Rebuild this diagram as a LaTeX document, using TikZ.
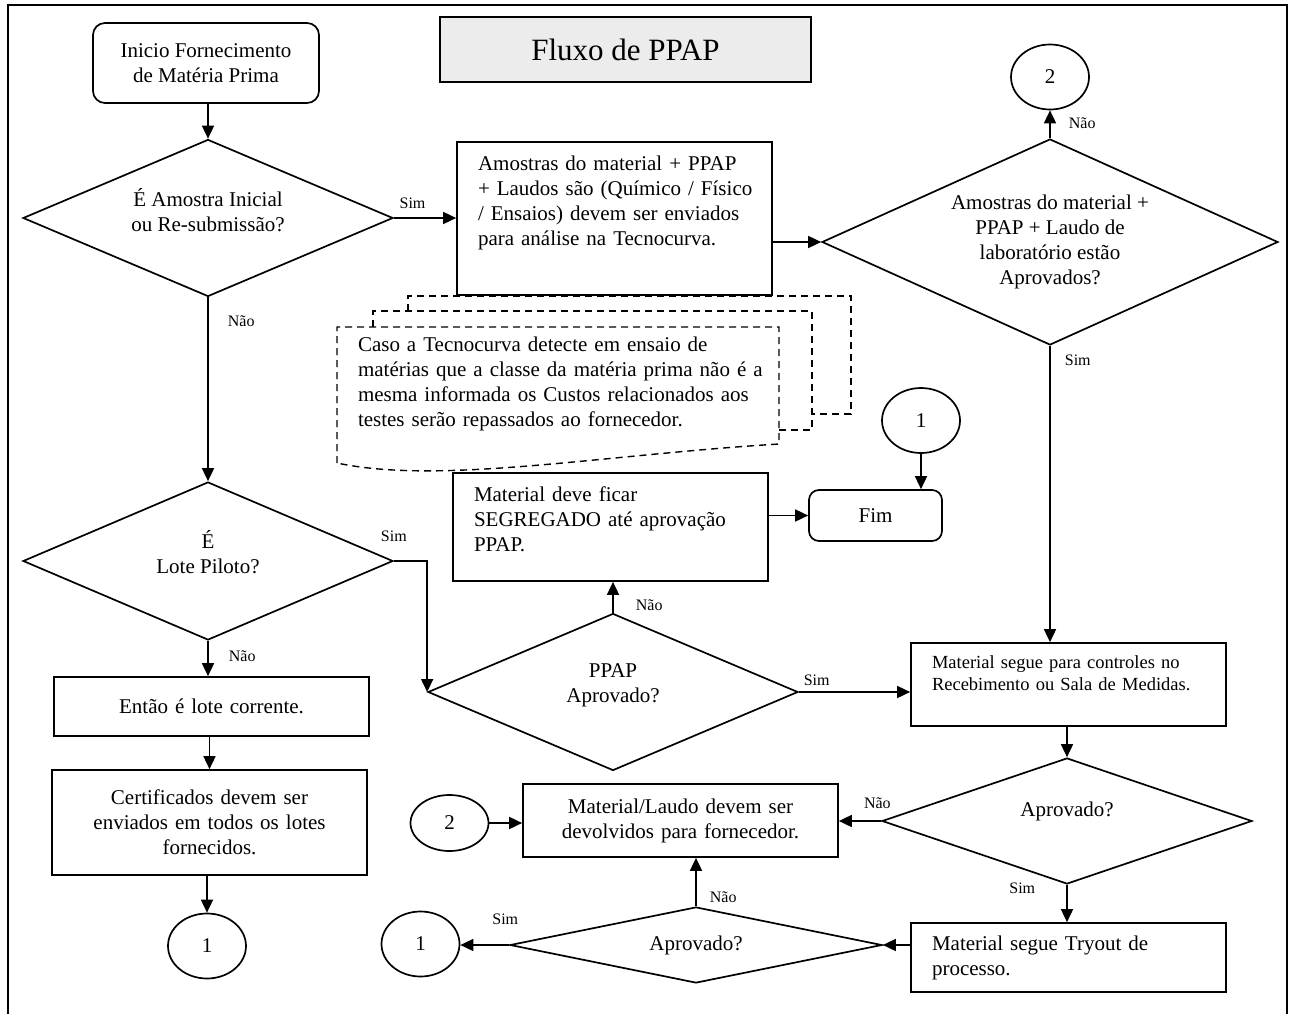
\documentclass[tikz,border=0pt]{standalone}
\usepackage{fontspec}
\setmainfont{Liberation Serif}
\usepackage{tikz}
\usetikzlibrary{shapes.geometric, arrows.meta}
\newcommand{\desce}[1]{\rule[-#1]{0pt}{#1}} % pushes the text up inside its box
\tikzset{
	->, % makes the connectors directed
	>={Triangle[length=13pt,width=12pt]}, % solid arrow heads
	texto/.style={font=\fontsize{21}{25}\selectfont},
	caixa/.style={draw, rectangle, texto, minimum width=315pt, minimum height=#1, text width=273pt, inner sep=0pt, align=center},
	inicio/.style={draw, rectangle, texto, rounded corners=12pt, align=center},
	decisao/.style n args={3}{draw, diamond, texto, inner sep=0pt, align=center, minimum width=#1pt, minimum height=#2pt, aspect=#3},
	conector/.style={draw, ellipse, texto, inner sep=0pt, minimum width=78pt, minimum height=65pt},
	rotulo/.style={font=\fontsize{16}{18}\selectfont, inner sep=2pt},
	tracejado/.style={-, dash pattern=on 7pt off 5pt, line width=1.4pt},
}

\begin{document}
\begin{tikzpicture}[x=1pt, y=-1pt, line width=1.7pt]
	\useasboundingbox (0,0) rectangle (1295,1014);
	\draw[-] (8,1014) -- (8,5) -- (1287,5) -- (1287,1014);

	\node[draw, fill=gray!15, minimum width=371pt, minimum height=65pt, font=\fontsize{31}{36}\selectfont] (titulo) at (625.5,49.5) {Fluxo de PPAP};
	\node[inicio, minimum width=226pt, minimum height=80pt] (inicio) at (206,63) {Inicio Fornecimento\\de Matéria Prima};
	\node[decisao={370}{157}{2.36}] (amostra) at (208,218) {É Amostra Inicial\\ou Re-submissão?\desce{17pt}};
	\node[caixa=153pt, align=left] (envio) at (614.5,218.5) {Amostras do material + PPAP\\\mbox{+ Laudos são (Químico / Físico}\\/ Ensaios) devem ser enviados\\para análise na Tecnocurva.\desce{36pt}};
	\node[decisao={456}{206}{2.21}] (aprovados) at (1050,242) {Amostras do material +\\PPAP + Laudo de\\laboratório estão\\Aprovados?};
	\node[conector] (c2a) at (1050,77) {2};

	% nota sobre os custos (multidocumento tracejado)
	\draw[tracejado] (408,311) -- (408,296) -- (851,296) -- (851,414) -- (812,414);
	\draw[tracejado] (373,327) -- (373,311) -- (812,311) -- (812,430) -- (779,430);
	\draw[tracejado] (337,463) -- (337,327) -- (779,327) -- (779,444) .. controls (600,455) and (440,485) .. (337,463);
	\node[texto, text width=430pt, align=left, inner sep=0pt] (nota) at (573,384) {Caso a Tecnocurva detecte em ensaio de\\matérias que a classe da matéria prima não é a\\mesma informada os Custos relacionados aos\\testes serão repassados ao fornecedor.};

	\node[decisao={370}{158}{2.34}] (piloto) at (208,561) {É\\Lote Piloto?\desce{19pt}};
	\node[caixa=59pt] (corrente) at (211.5,706.5) {Então é lote corrente.};
	\node[caixa=105pt] (certif) at (209.5,822.5) {Certificados devem ser\\enviados em todos os lotes\\fornecidos.};
	\node[conector] (c1a) at (207,946) {1};

	\node[decisao={370}{157}{2.36}] (ppap) at (613,692) {PPAP\\Aprovado?\desce{17pt}};
	\node[caixa=108pt, align=left] (segregado) at (610.5,527) {Material deve ficar\\SEGREGADO até aprovação\\PPAP.\desce{15pt}};
	\node[inicio, minimum width=133pt, minimum height=51pt, rounded corners=10pt] (fim) at (875.5,515.5) {Fim};
	\node[conector] (c1b) at (921,420.5) {1};

	\node[caixa=83pt, align=left, font=\fontsize{18.5}{22}\selectfont] (controles) at (1068.5,684.5) {Material segue para controles no\\Recebimento ou Sala de Medidas.\desce{22pt}};
	\node[decisao={370}{126}{2.94}] (aprov3) at (1067,821) {Aprovado?\desce{24pt}};
	\node[caixa=73pt] (devolver) at (680.5,820.5) {Material/Laudo devem ser\\devolvidos para fornecedor.};
	\node[conector, minimum height=56pt] (c2b) at (449.5,823) {2};
	\node[decisao={372}{76}{4.89}] (aprov4) at (696,945) {Aprovado?};
	\node[caixa=69pt, align=left] (tryout) at (1068.5,957.5) {Material segue Tryout de\\processo.};
	\node[conector] (c1c) at (420.5,944) {1};

	\draw (amostra.north |- inicio.south) -- (amostra.north);
	\draw (amostra.east) -- node[rotulo, above=6pt, pos=.3] {Sim} (amostra.east -| envio.west);
	\draw (aprovados.west -| envio.east) -- (aprovados.west);
	\draw (aprovados.north) -- node[rotulo, right=16pt, pos=.55] {Não} (c2a.south);
	\draw (aprovados.south) -- node[rotulo, right=12pt, pos=.05] {Sim} (aprovados.south |- controles.north);
	\draw (amostra.south) -- node[rotulo, right=17pt, pos=.13] {Não} (piloto.north);
	\draw (piloto.east) -| node[rotulo, above=16pt, pos=0] {Sim} (ppap.west);
	\draw (piloto.south) -- node[rotulo, right=18pt, pos=.43] {Não} (piloto.south |- corrente.north);
	\draw (certif.north |- corrente.south) -- (certif.north);
	\draw (c1a.north |- certif.south) -- (c1a.north);
	\draw (ppap.north) -- node[rotulo, right=20pt, pos=.24] {Não} (ppap.north |- segregado.south);
	\draw (fim.west -| segregado.east) -- (fim.west);
	\draw (c1b.south) -- (c1b.south |- fim.north);
	\draw (ppap.east) -- node[rotulo, above=4pt, pos=.16] {Sim} (ppap.east -| controles.west);
	\draw (aprov3.north |- controles.south) -- (aprov3.north);
	\draw (aprov3.west) -- node[rotulo, above=10pt, pos=.09] {Não} (aprov3.west -| devolver.east);
	\draw (aprov3.south) -- node[rotulo, left=29pt, pos=.1] {Sim} (aprov3.south |- tryout.north);
	\draw (aprov4.east -| tryout.west) -- (aprov4.east);
	\draw (aprov4.north) -- node[rotulo, right=11pt, pos=.18] {Não} (aprov4.north |- devolver.south);
	\draw (aprov4.west) -- node[rotulo, above=18pt, pos=.08] {Sim} (aprov4.west -| c1c.east);
	\draw (c2b.east) -- (c2b.east -| devolver.west);
\end{tikzpicture}
\end{document}
